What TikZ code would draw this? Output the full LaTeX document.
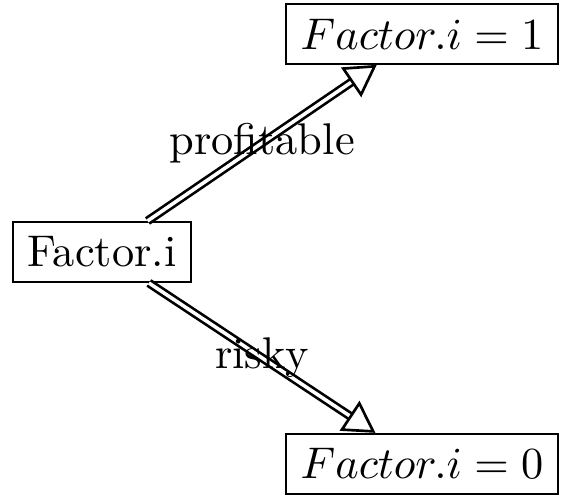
\documentclass[tikz,border=0pt]{standalone}
\usetikzlibrary{arrows.meta}
\begin{document}
\begin{tikzpicture}[
  box/.style={draw, inner sep=3.333pt},
  dbl/.style={double, line width=0.6pt, double distance=0.8pt, -{Triangle[open, length=7pt, width=8pt]}},
  lbl/.style={inner sep=0pt}
]
\useasboundingbox (-22.97pt,-55.2pt) rectangle (103.4pt,56.76pt);
\node[box] (f) at (0,0) {Factor.i};
\node[box] (t) at (72.1pt,49.1pt) {$Factor.i=1$};
\node[box] (b) at (72.1pt,-47.7pt) {$Factor.i=0$};
\draw[dbl] (f) -- (t) node[midway, lbl] (pl) {profitable};
\draw[dbl] (f) -- (b) node[midway, lbl] (rl) {risky};
\end{tikzpicture}
\end{document}
